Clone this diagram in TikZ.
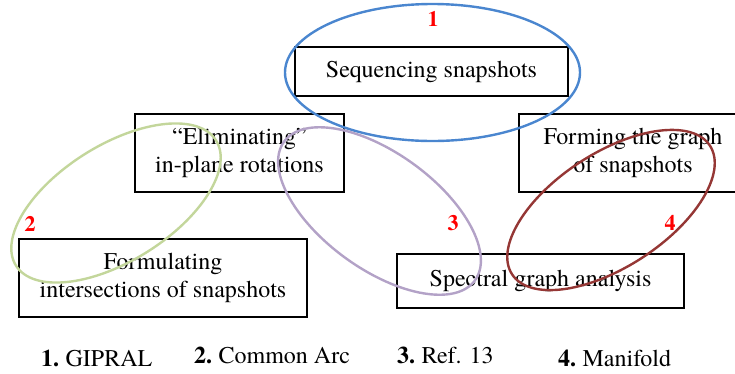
\documentclass[tikz,border=0pt]{standalone}
\usepackage{fontspec}
\setmainfont{texgyretermes}[Extension=.otf, UprightFont=*-regular, BoldFont=*-bold]
\usepackage{xcolor}
\definecolor{azul}{HTML}{4A86CF}
\definecolor{oliva}{HTML}{C3D69B}
\definecolor{lila}{HTML}{B3A2C7}
\definecolor{granate}{HTML}{953735}
\definecolor{rojo}{HTML}{FF0000}

\begin{document}
\begin{tikzpicture}[x=1pt, y=-1pt, font=\fontsize{24}{28}\selectfont,
      caja/.style={draw, line width=1.3pt, align=center, inner sep=0pt},
      anillo/.style={line width=2.4pt},
      num/.style={text=rojo, font=\fontsize{22}{24}\selectfont\bfseries},
      ley/.style={anchor=base west, inner sep=0pt},
      leynum/.style={ley, font=\fontsize{24}{28}\selectfont\bfseries}]
    \useasboundingbox (0,0) rectangle (735,373);
    % cajas
    \node[caja, minimum width=273pt, minimum height=49pt] (seq) at (431.5,71.5) {Sequencing snapshots};
    \node[caja, minimum width=209pt, minimum height=78pt] (elim) at (239.5,153) {``Eliminating''\\in-plane rotations};
    \node[caja, minimum width=228pt, minimum height=78pt] (graf) at (633,153) {Forming the graph\\of snapshots};
    \node[caja, minimum width=288pt, minimum height=78pt] (form) at (163,278) {Formulating\\intersections of snapshots};
    \node[caja, minimum width=287pt, minimum height=54pt] (espec) at (540.5,281) {Spectral graph analysis};
    % elipses
    \draw[anillo, azul] (432.5,72.5) ellipse [x radius=147.5, y radius=68.5];
    \draw[anillo, oliva, rotate around={32:(116,203)}] (116,203) ellipse [x radius=118, y radius=58];
    \draw[anillo, lila, rotate around={-36:(379.5,211)}] (379.5,211) ellipse [x radius=118, y radius=58];
    \draw[anillo, granate, rotate around={33:(611,210)}] (611,210) ellipse [x radius=118, y radius=57];
    % numeros
    \node[num] (n1) at (433,19) {1};
    \node[num] (n2) at (30,224) {2};
    \node[num] (n3) at (453,223) {3};
    \node[num] (n4) at (670,223) {4};
    % leyenda
    \node[leynum] (l1n) at (41,366) {1.};
    \node[ley] (l1) at ([xshift=6pt]l1n.base east) {GIPRAL};
    \node[leynum] (l2n) at (194,363) {2.};
    \node[ley] (l2) at ([xshift=6pt]l2n.base east) {Common Arc};
    \node[leynum] (l3n) at (397,363) {3.};
    \node[ley] (l3) at ([xshift=6pt]l3n.base east) {Ref. 13};
    \node[leynum] (l4n) at (558,366) {4.};
    \node[ley] (l4) at ([xshift=6pt]l4n.base east) {Manifold};
  \end{tikzpicture}
\end{document}
